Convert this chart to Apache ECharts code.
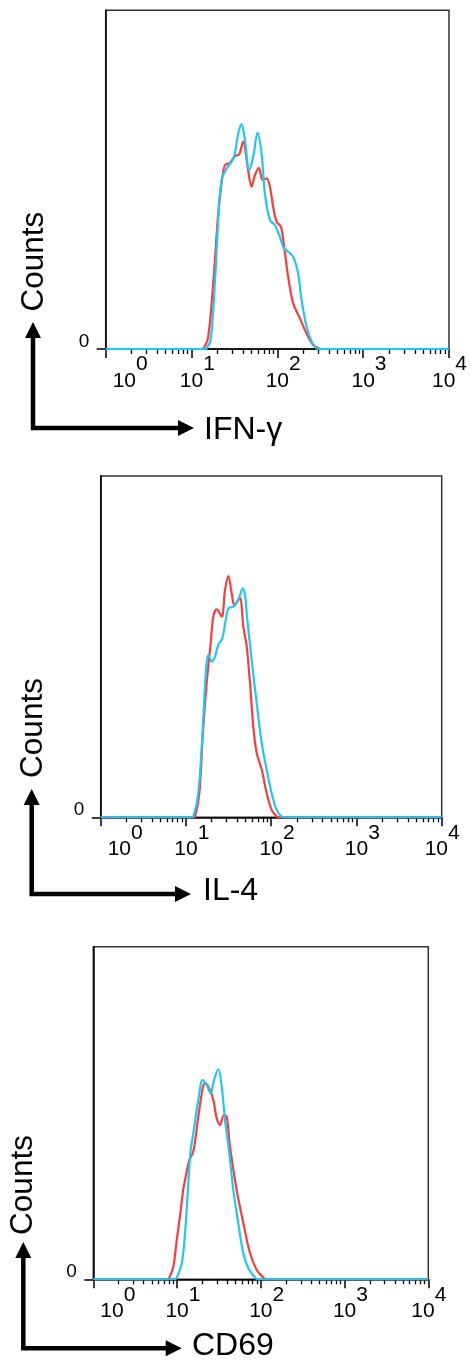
<!DOCTYPE html>
<html>
<head>
<meta charset="utf-8">
<script src="https://cdn.jsdelivr.net/npm/echarts@6/dist/echarts.min.js"></script>
<style>
  html, body { margin: 0; padding: 0; background: #fff; }
  #chart { width: 470px; height: 1363px; }
</style>
</head>
<body>
<div id="chart"></div>
<script>
// ---- Data (x = log10 fluorescence intensity, y = relative counts, 0..100) ----
const panelNames = ['IFN-γ', 'IL-4', 'CD69'];
const yAxisTitle = 'Counts';
const decadeExponents = ['0', '1', '2', '3', '4'];
const majorTickValues = [0, 1, 2, 3, 4];
const minorMantissas = [2, 3, 4, 5, 6, 7, 8, 9];
const yZeroLabel = ['0'];

const ifnRedX = [0, 1.12, 1.144, 1.194, 1.253, 1.311, 1.350, 1.389, 1.446, 1.505, 1.555, 1.602, 1.653, 1.700, 1.738, 1.785, 1.828, 1.874, 1.913, 1.951, 1.991, 2.041, 2.079, 2.126, 2.184, 2.262, 2.340, 2.417, 2.495, 2.52, 4];
const ifnRedY = [0, 0, 0.2, 3.6, 19.5, 40.1, 49.0, 54.3, 54.9, 56.9, 57.5, 61.2, 53.8, 47.9, 51.3, 53.5, 49.9, 50.4, 47.9, 42.0, 37.6, 36.1, 30.2, 21.3, 13.5, 9.1, 4.6, 1.2, 0.1, 0, 0];
const ifnBlueX = [0, 1.15, 1.176, 1.222, 1.272, 1.311, 1.350, 1.409, 1.467, 1.505, 1.544, 1.583, 1.622, 1.672, 1.718, 1.770, 1.816, 1.855, 1.913, 1.971, 2.029, 2.076, 2.126, 2.184, 2.242, 2.282, 2.340, 2.398, 2.456, 2.48, 4];
const ifnBlueY = [0, 0, 0.2, 2.7, 19.5, 38.1, 49.9, 53.3, 55.3, 57.7, 63.6, 66.4, 61.7, 52.8, 56.7, 63.8, 57.7, 45.9, 38.1, 36.6, 33.1, 29.7, 28.7, 27.2, 22.3, 14.5, 6.6, 2.2, 0.2, 0, 0];

const il4RedX = [0, 1.08, 1.106, 1.157, 1.196, 1.243, 1.290, 1.321, 1.361, 1.419, 1.458, 1.497, 1.537, 1.567, 1.602, 1.634, 1.673, 1.713, 1.751, 1.790, 1.830, 1.889, 1.947, 2.006, 2.065, 2.09, 4];
const il4RedY = [0, 0, 0.2, 7.0, 23.6, 39.3, 51.0, 58.8, 60.9, 58.8, 66.6, 70.7, 65.6, 62.2, 63.2, 64.2, 55.8, 50.0, 39.3, 26.5, 18.8, 13.9, 7.0, 2.1, 0.2, 0, 0];
const il4BlueX = [0, 1.06, 1.086, 1.145, 1.196, 1.235, 1.262, 1.302, 1.341, 1.379, 1.426, 1.466, 1.497, 1.555, 1.602, 1.634, 1.666, 1.693, 1.720, 1.771, 1.830, 1.889, 1.947, 2.006, 2.065, 2.123, 2.15, 4];
const il4BlueY = [0, 0, 0.2, 7.0, 25.5, 43.2, 47.6, 45.6, 47.1, 50.5, 52.4, 57.8, 61.2, 61.7, 63.2, 65.1, 67.1, 65.1, 57.8, 46.1, 33.4, 21.7, 13.9, 7.0, 2.1, 0.2, 0, 0];

const cd69RedX = [0, 0.88, 0.907, 0.955, 0.996, 1.044, 1.073, 1.095, 1.146, 1.194, 1.254, 1.306, 1.334, 1.385, 1.433, 1.473, 1.513, 1.561, 1.593, 1.632, 1.712, 1.791, 1.871, 1.951, 2.030, 2.06, 4];
const cd69RedY = [0, 0, 0.5, 3.8, 11.8, 20.8, 26.8, 29.8, 35.8, 38.4, 48.9, 57.4, 58.9, 57.4, 53.9, 48.4, 46.4, 49.4, 48.9, 39.9, 26.8, 16.9, 7.9, 2.8, 0.5, 0, 0];
const cd69BlueX = [0, 0.97, 0.996, 1.056, 1.095, 1.134, 1.163, 1.194, 1.254, 1.306, 1.354, 1.402, 1.441, 1.493, 1.533, 1.573, 1.624, 1.672, 1.731, 1.791, 1.851, 1.931, 1.96, 4];
const cd69BlueY = [0, 0, 0.5, 4.8, 13.8, 28.9, 38.9, 43.9, 53.9, 59.9, 58.4, 55.9, 59.9, 63.1, 57.9, 47.9, 37.9, 26.8, 16.8, 7.8, 3.3, 0.5, 0, 0];

// ---- Build ----
const RED = '#ff3a3a';
const BLUE = '#1ec8f2';
const FONT = '"Liberation Sans", Arial, sans-serif';

function pairs(xs, ys) { return xs.map((x, i) => [x, ys[i]]); }
const minorTickValues = [];
for (let d = 0; d < 4; d++) minorMantissas.forEach(m => minorTickValues.push(d + Math.log10(m)));

const panels = [
  { grid: { left: 105.7, top: 10.3, width: 343.6, height: 338.7 }, red: pairs(ifnRedX, ifnRedY), blue: pairs(ifnBlueX, ifnBlueY),
    arrowX: 33, arrowTipY: 322, arrowY: 428, arrowTipX: 194, countsX: 34, countsY: 261.7, nameX: 204, nameY: 430 },
  { grid: { left: 100.7, top: 476, width: 341, height: 341.3 }, red: pairs(il4RedX, il4RedY), blue: pairs(il4BlueX, il4BlueY),
    arrowX: 31.7, arrowTipY: 789, arrowY: 894, arrowTipX: 191, countsX: 33, countsY: 728, nameX: 203, nameY: 891 },
  { grid: { left: 93.3, top: 946.7, width: 335, height: 332.6 }, red: pairs(cd69RedX, cd69RedY), blue: pairs(cd69BlueX, cd69BlueY),
    arrowX: 23.3, arrowTipY: 1242, arrowY: 1348.3, arrowTipX: 181.7, countsX: 23, countsY: 1185, nameX: 192, nameY: 1346 }
];

const grids = [], xAxes = [], yAxes = [], series = [], graphics = [];

function tickLabel(value) {
  const i = Math.round(value);
  const exp = decadeExponents[i];
  let sp = 'mid';
  if (i === 0) sp = 'first';
  else if (i === decadeExponents.length - 1) sp = 'last';
  return '{' + sp + '| }{b|10}{s|' + exp + '}';
}

panels.forEach((p, gi) => {
  grids.push(Object.assign({ show: true, borderColor: '#333', borderWidth: 1.5, backgroundColor: 'transparent' }, p.grid));
  xAxes.push({
    gridIndex: gi, type: 'value', min: 0, max: 4, position: 'bottom',
    axisLine: { show: true, onZero: false, lineStyle: { color: '#000', width: 1.5 } },
    splitLine: { show: false },
    axisTick: { show: true, customValues: majorTickValues, length: 9, lineStyle: { color: '#000', width: 1.5 } },
    axisLabel: {
      show: true, customValues: majorTickValues, margin: 5, formatter: tickLabel,
      color: '#000', fontFamily: FONT,
      rich: {
        b: { fontSize: 21, lineHeight: 21, fontFamily: FONT, color: '#000', verticalAlign: 'bottom' },
        s: { fontSize: 21, lineHeight: 21, fontFamily: FONT, color: '#000', verticalAlign: 'top' },
        mid: { width: 11.7, lineHeight: 37.6, fontSize: 21 },
        first: { width: 49, lineHeight: 37.6, fontSize: 21 },
        last: { width: 1, lineHeight: 37.6, fontSize: 21 }
      }
    }
  });
  xAxes.push({
    gridIndex: gi, type: 'value', min: 0, max: 4, position: 'bottom',
    axisLine: { show: false }, splitLine: { show: false }, axisLabel: { show: false },
    axisTick: { show: true, customValues: minorTickValues, length: 5, lineStyle: { color: '#000', width: 1.3 } }
  });
  yAxes.push({
    gridIndex: gi, type: 'value', min: 0, max: 100,
    axisLine: { show: true, lineStyle: { color: '#000', width: 1.5 } },
    splitLine: { show: false },
    axisTick: { show: true, customValues: [0], length: 9, lineStyle: { color: '#000', width: 1.5 } },
    axisLabel: { show: true, customValues: [0], formatter: () => yZeroLabel[0], margin: 16.5,
      fontSize: 19, fontFamily: FONT, color: '#000', verticalAlign: 'bottom', lineHeight: 15 }
  });
  series.push({ type: 'line', xAxisIndex: gi * 2, yAxisIndex: gi, data: p.red, showSymbol: false, smooth: 0.35,
    lineStyle: { color: RED, width: 2.2 }, itemStyle: { color: RED }, z: 3, silent: true, animation: false });
  series.push({ type: 'line', xAxisIndex: gi * 2, yAxisIndex: gi, data: p.blue, showSymbol: false, smooth: 0.35,
    lineStyle: { color: BLUE, width: 2.2 }, itemStyle: { color: BLUE }, z: 4, silent: true, animation: false });

  // Arrow: L-shaped line with two heads
  const ah = 16, hw = 8;
  graphics.push({ type: 'polyline', shape: { points: [[p.arrowX, p.arrowTipY + ah - 1], [p.arrowX, p.arrowY], [p.arrowTipX - ah + 1, p.arrowY]] },
    style: { stroke: '#000', lineWidth: 4.5, fill: null, lineJoin: 'miter', lineCap: 'butt' } });
  graphics.push({ type: 'polygon', shape: { points: [[p.arrowX, p.arrowTipY], [p.arrowX - hw, p.arrowTipY + ah], [p.arrowX + hw, p.arrowTipY + ah]] },
    style: { fill: '#000' } });
  graphics.push({ type: 'polygon', shape: { points: [[p.arrowTipX, p.arrowY], [p.arrowTipX - ah, p.arrowY - hw], [p.arrowTipX - ah, p.arrowY + hw]] },
    style: { fill: '#000' } });
  graphics.push({ type: 'text', x: p.countsX, y: p.countsY, rotation: Math.PI / 2,
    style: { text: yAxisTitle, x: 0, y: 0, font: '31.5px ' + FONT, fill: '#000', textAlign: 'center', textVerticalAlign: 'middle', align: 'center', verticalAlign: 'middle' } });
  graphics.push({ type: 'text', x: p.nameX, y: p.nameY,
    style: { text: panelNames[gi], x: 0, y: 0, font: '32px ' + FONT, fill: '#000', textAlign: 'left', textVerticalAlign: 'middle', align: 'left', verticalAlign: 'middle' } });
});

const chart = echarts.init(document.getElementById('chart'), null, { renderer: 'canvas' });
chart.setOption({
  animation: false,
  backgroundColor: '#fff',
  grid: grids,
  xAxis: xAxes,
  yAxis: yAxes,
  series: series,
  graphic: { elements: graphics }
});
</script>
</body>
</html>
